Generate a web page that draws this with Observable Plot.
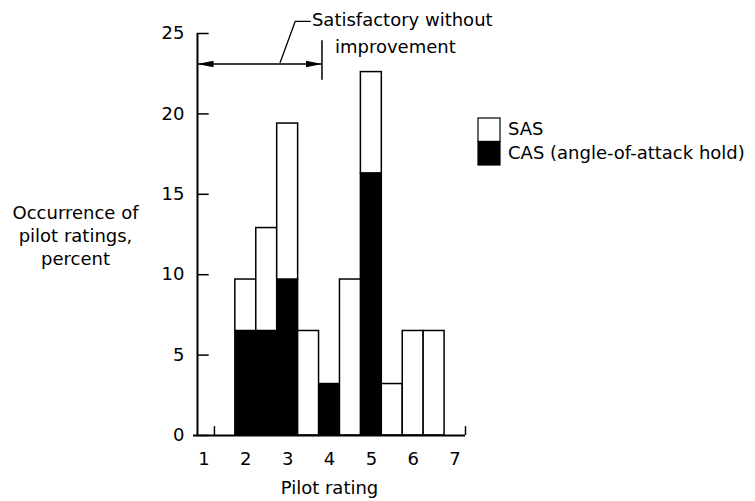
<!DOCTYPE html>
<html>
<head>
<meta charset="utf-8">
<script src="https://cdn.jsdelivr.net/npm/d3@7"></script>
<script src="https://cdn.jsdelivr.net/npm/@observablehq/plot@0.6"></script>
<style>
  html, body { margin: 0; padding: 0; background: white; }
  #chart { width: 755px; height: 501px; }
</style>
</head>
<body>
<div id="chart"></div>
<script>
// ---- Data ----
const ratings   = [1, 1.5, 2, 2.5, 3, 3.5, 4, 4.5, 5, 5.5, 6, 6.5];
const casValues = [0, 0, 6.5, 6.5, 9.7, 0, 3.2, 0, 16.3, 0, 0, 0];   // black (bottom)
const sasValues = [0, 0, 3.2, 6.4, 9.7, 6.5, 0, 9.7, 6.3, 3.2, 6.5, 6.5]; // white (top)
const seriesKeys   = ["SAS", "CAS"];
const seriesLabels = ["SAS", "CAS (angle-of-attack hold)"];
const seriesColors = ["white", "black"];
const binWidth = 0.5;

const xTickLabels = [1, 2, 3, 4, 5, 6, 7];
const xBinTicks   = [1.25, 7.25];
const yTicks      = [0, 5, 10, 15, 20, 25];

const xTitle = "Pilot rating";
const yTitle = "Occurrence of\npilot ratings,\npercent";

// annotation: "Satisfactory without improvement" range
const satRange = [0.845, 3.82];
const satArrowY = 23.1;
const satText = [
  {text: "Satisfactory without", x: 3.58, y: 25.8},
  {text: "improvement", x: 4.13, y: 24.13}
];
const leader = [[2.82, 23.2], [3.18, 25.75], [3.54, 25.75]];

// ---- Build table ----
const rows = [];
ratings.forEach((r, i) => { if (casValues[i] > 0) rows.push({rating: r, series: "CAS", value: casValues[i]}); });
ratings.forEach((r, i) => { if (sasValues[i] > 0) rows.push({rating: r, series: "SAS", value: sasValues[i]}); });

const yAxisX = 0.845;

const arrowHead = {
  draw(ctx) {
    const L = 16, W = 3.2;
    ctx.moveTo(0, 0);
    ctx.lineTo(-L, -W);
    ctx.lineTo(-L, W);
    ctx.closePath();
  }
};

const FONT = "DejaVu Sans";

const plot = Plot.plot({
  width: 755,
  height: 501,
  marginLeft: 193,
  marginRight: 290,
  marginTop: 33,
  marginBottom: 66,
  style: {fontFamily: FONT, fontSize: "18px", background: "white", overflow: "visible"},
  x: {domain: [0.75, 7.25], axis: null},
  y: {domain: [0, 25], axis: null},
  color: {domain: seriesKeys, range: seriesColors},
  marks: [
    Plot.rectY(rows, Plot.stackY({
      x1: d => d.rating - binWidth / 2,
      x2: d => d.rating + binWidth / 2,
      y: "value",
      fill: "series",
      stroke: "black",
      strokeWidth: 1.5
    })),
    // axes lines
    Plot.ruleY([0], {stroke: "black", strokeWidth: 2}),
    Plot.ruleX([yAxisX], {y1: 0, y2: 25, stroke: "black", strokeWidth: 2}),
    Plot.ruleY(yTicks, {x1: yAxisX, x2: yAxisX + 0.28, stroke: "black", strokeWidth: 1.5}),
    Plot.ruleX(xBinTicks, {y1: 0, y2: 0.55, stroke: "black", strokeWidth: 1.5}),
    Plot.axisY({ticks: yTicks, tickSize: 0, tickPadding: 9, fontSize: 18, label: null, tickFormat: "d"}),
    Plot.axisX({ticks: xTickLabels, tickSize: 0, tickPadding: 17, fontSize: 18, label: null, tickFormat: "d"}),
    Plot.text([xTitle], {frameAnchor: "bottom", dy: 53, fontSize: 18, lineAnchor: "middle"}),
    Plot.text([yTitle], {frameAnchor: "left", dx: -118, dy: 0, fontSize: 18, textAnchor: "middle", lineAnchor: "middle", lineHeight: 1.3}),
    // annotation
    Plot.ruleY([satArrowY], {x1: satRange[0], x2: satRange[1], stroke: "black", strokeWidth: 1.5}),
    Plot.dot([{x: satRange[0], rot: 180}, {x: satRange[1], rot: 0}], {
      x: "x", y: () => satArrowY, rotate: "rot", symbol: arrowHead, fill: "black", stroke: "none", r: 5
    }),
    Plot.ruleX([satRange[1]], {y1: 22.1, y2: 24.55, stroke: "black", strokeWidth: 1.5}),
    Plot.line(leader, {x: d => d[0], y: d => d[1], stroke: "black", strokeWidth: 1.3}),
    Plot.text(satText, {x: "x", y: "y", text: "text", textAnchor: "start", lineAnchor: "middle", fontSize: 18})
  ]
});

document.getElementById("chart").appendChild(plot);

// ---- Legend (stacked swatch box) ----
const color = plot.scale("color");
const svg = d3.select(plot);
const lg = svg.append("g").attr("font-family", FONT).attr("font-size", 18).attr("text-anchor", "start");
const boxX = 478, boxY = 118, boxW = 22, boxH = 23.5;
seriesKeys.forEach((k, i) => {
  lg.append("rect")
    .attr("x", boxX).attr("y", boxY + i * boxH)
    .attr("width", boxW).attr("height", boxH)
    .attr("fill", color.apply(k)).attr("stroke", "black").attr("stroke-width", 1.2);
  lg.append("text")
    .attr("x", boxX + boxW + 8).attr("y", boxY + i * boxH + boxH / 2 + 0.5)
    .attr("text-anchor", "start")
    .attr("dominant-baseline", "middle")
    .text(seriesLabels[i]);
});
</script>
</body>
</html>
